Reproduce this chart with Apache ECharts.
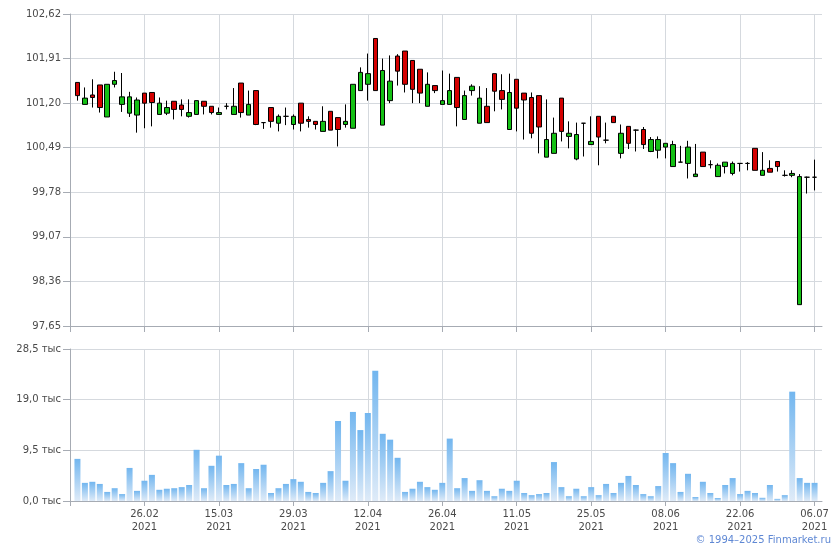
<!DOCTYPE html>
<html>
<head>
<meta charset="utf-8">
<script src="https://cdn.jsdelivr.net/npm/echarts@6/dist/echarts.min.js"></script>
<style>html,body{margin:0;padding:0;background:#fff;}#c{width:840px;height:550px;}</style>
</head>
<body>
<div id="c"></div>
<script>
const year = '2021';
const dates = ['12.02','15.02','16.02','17.02','18.02','19.02','22.02','24.02','25.02','26.02',
'01.03','02.03','03.03','04.03','05.03','09.03','10.03','11.03','12.03','15.03',
'16.03','17.03','18.03','19.03','22.03','23.03','24.03','25.03','26.03','29.03',
'30.03','31.03','01.04','02.04','05.04','06.04','07.04','08.04','09.04','12.04',
'13.04','14.04','15.04','16.04','19.04','20.04','21.04','22.04','23.04','26.04',
'27.04','28.04','29.04','30.04','04.05','05.05','06.05','07.05','10.05','11.05',
'12.05','13.05','14.05','17.05','18.05','19.05','20.05','21.05','24.05','25.05',
'26.05','27.05','28.05','31.05','01.06','02.06','03.06','04.06','07.06','08.06',
'09.06','10.06','11.06','14.06','15.06','16.06','17.06','18.06','21.06','22.06',
'23.06','24.06','25.06','28.06','29.06','30.06','01.07','02.07','05.07','06.07'];

const opens = [101.53,101.18,101.33,101.49,100.98,101.50,101.18,101.04,101.01,101.36,
101.37,101.02,101.04,101.23,101.17,100.99,101.02,101.23,101.15,101.02,
101.15,101.02,101.52,101.01,101.40,100.89,101.13,100.88,100.99,100.86,
101.20,100.94,100.91,100.75,101.07,100.97,100.86,100.80,101.40,101.50,
102.23,100.85,101.24,101.95,102.03,101.88,101.74,101.15,101.48,101.18,
101.18,101.61,100.94,101.40,100.88,101.15,101.67,101.40,100.78,101.58,
101.36,101.29,101.32,100.34,100.40,101.28,100.67,100.31,100.88,100.54,
100.99,100.61,100.99,100.40,100.83,100.77,100.78,100.43,100.45,100.50,
100.19,100.26,100.24,100.03,100.42,100.22,100.03,100.19,100.08,100.24,
100.24,100.48,100.05,100.16,100.27,100.05,100.05,97.99,100.02,100.02];

const closes = [101.32,101.28,101.29,101.13,101.50,101.56,101.30,101.30,101.25,101.20,
101.21,101.20,101.13,101.10,101.10,101.05,101.24,101.15,101.05,101.05,
101.15,101.15,101.05,101.18,100.86,100.89,100.91,100.99,100.99,100.99,
100.88,100.91,100.86,100.91,100.77,100.78,100.91,101.50,101.69,101.67,
101.40,101.72,101.55,101.71,101.50,101.42,101.36,101.50,101.40,101.24,
101.40,101.13,101.32,101.47,101.28,100.89,101.39,101.26,101.37,101.12,
101.25,100.72,100.82,100.62,100.72,100.75,100.72,100.70,100.88,100.59,
100.66,100.61,100.89,100.72,100.56,100.77,100.54,100.62,100.62,100.56,
100.54,100.26,100.50,100.07,100.19,100.22,100.21,100.26,100.24,100.24,
100.24,100.13,100.13,100.10,100.19,100.05,100.08,100.03,100.02,100.02];

const lows = [101.24,101.18,101.13,101.05,100.98,101.45,101.06,100.98,100.73,100.80,
100.83,101.02,101.01,100.94,100.99,100.97,101.02,101.02,101.02,101.02,
101.10,101.02,100.97,101.01,100.85,100.79,100.81,100.75,100.85,100.78,
100.75,100.81,100.78,100.75,100.77,100.51,100.81,100.80,101.40,101.24,
101.40,100.85,101.20,101.48,101.37,101.20,101.20,101.15,101.36,101.18,
101.18,100.83,100.94,101.32,100.88,100.89,101.07,101.10,100.78,100.75,
100.62,100.64,100.40,100.34,100.40,100.59,100.48,100.29,100.35,100.54,
100.21,100.56,100.89,100.32,100.47,100.43,100.47,100.42,100.32,100.32,
100.19,100.26,100.00,100.03,100.19,100.16,100.03,100.08,100.05,100.11,
100.13,100.13,100.05,100.10,100.11,100.03,100.02,97.99,99.76,99.81];

const highs = [101.53,101.45,101.58,101.49,101.50,101.70,101.68,101.38,101.29,101.36,
101.37,101.29,101.24,101.23,101.26,101.26,101.24,101.23,101.15,101.13,
101.20,101.44,101.52,101.40,101.40,100.89,101.13,101.02,101.13,101.02,
101.20,100.99,100.91,101.15,101.07,100.97,101.18,101.50,101.77,101.99,
102.23,101.91,101.96,101.98,102.03,101.88,101.74,101.69,101.48,101.72,
101.67,101.61,101.40,101.50,101.47,101.44,101.67,101.66,101.67,101.58,
101.36,101.37,101.32,101.26,100.97,101.28,100.91,100.89,100.88,100.99,
100.99,100.89,100.99,100.86,100.83,100.78,100.82,100.66,100.67,100.56,
100.60,100.52,100.60,100.55,100.42,100.29,100.24,100.26,100.27,100.24,
100.26,100.48,100.42,100.29,100.27,100.13,100.13,100.07,100.03,100.30];

// volume, thousands
const volumes = [7.9,3.4,3.6,3.2,1.7,2.4,1.3,6.2,1.9,3.8,
4.9,2.1,2.3,2.4,2.6,3.0,9.6,2.4,6.6,8.5,
3.0,3.2,7.1,2.4,6.0,6.8,1.5,2.4,3.2,4.1,
3.6,1.7,1.5,3.4,5.6,15.0,3.8,16.7,13.3,16.5,
24.4,12.6,11.5,8.1,1.7,2.3,3.6,2.6,2.1,3.4,
11.7,2.4,4.3,1.9,3.9,1.9,0.9,2.3,1.9,3.8,
1.5,1.1,1.3,1.5,7.3,2.6,0.9,2.3,0.9,2.6,
1.1,3.2,1.5,3.4,4.7,3.0,1.3,0.9,2.8,9.0,
7.1,1.7,5.1,0.75,3.6,1.5,0.56,3.0,4.3,1.3,
1.9,1.5,0.6,3.0,0.4,1.1,20.5,4.3,3.4,3.4];

const priceTicks = {min: 97.65, max: 102.62, step: 0.71};
const volTicks = {min: 0, max: 28.5, step: 9.5};

// pad one empty slot on each side so the axis extends half a step beyond data
const cats = [''].concat(dates, ['']);
const candleData = ['-'].concat(opens.map((o, i) => [o, closes[i], lows[i], highs[i]]), ['-']);
const volData = ['-'].concat(volumes, ['-']);

const FONT = 'DejaVu Sans';
const labelColor = '#4a4a4a';
const gridColor = '#d5d9de';
const axisColor = '#a6abb3';
const tickIdx = (i) => i === 0 || (i % 10 === 0 && i <= 100);
const labelIdx = (i) => i >= 10 && i % 10 === 0 && i <= 100;

const chart = echarts.init(document.getElementById('c'), null, {renderer: 'canvas'});
chart.setOption({
  animation: false,
  backgroundColor: '#ffffff',
  grid: [
    {left: 70, right: 18, top: 14, height: 312},
    {left: 70, right: 18, top: 349, height: 152}
  ],
  xAxis: [
    {
      type: 'category', gridIndex: 0, data: cats, boundaryGap: false,
      axisLine: {show: true, lineStyle: {color: axisColor}},
      axisTick: {show: true, interval: tickIdx, length: 6, lineStyle: {color: axisColor}},
      axisLabel: {show: false},
      splitLine: {show: true, interval: tickIdx, lineStyle: {color: gridColor}}
    },
    {
      type: 'category', gridIndex: 1, data: cats, boundaryGap: false,
      axisLine: {show: true, lineStyle: {color: axisColor}},
      axisTick: {show: true, interval: tickIdx, length: 5, lineStyle: {color: axisColor}},
      axisLabel: {
        show: true, interval: labelIdx, margin: 7,
        fontFamily: FONT, fontSize: 10, color: labelColor, lineHeight: 13,
        formatter: (v) => v ? v + '\n' + year : ''
      },
      splitLine: {show: true, interval: tickIdx, lineStyle: {color: gridColor}}
    }
  ],
  yAxis: [
    {
      type: 'value', gridIndex: 0, min: priceTicks.min, max: priceTicks.max, interval: priceTicks.step,
      axisLine: {show: true, lineStyle: {color: axisColor}},
      axisTick: {show: true, length: 7, lineStyle: {color: axisColor}},
      axisLabel: {fontFamily: FONT, fontSize: 10, color: labelColor, margin: 9,
        formatter: (v) => v.toFixed(2).replace('.', ',')},
      splitLine: {show: true, lineStyle: {color: gridColor}}
    },
    {
      type: 'value', gridIndex: 1, min: volTicks.min, max: volTicks.max, interval: volTicks.step,
      axisLine: {show: true, lineStyle: {color: axisColor}},
      axisTick: {show: true, length: 7, lineStyle: {color: axisColor}},
      axisLabel: {fontFamily: FONT, fontSize: 10, color: labelColor, margin: 9,
        formatter: (v) => v.toFixed(1).replace('.', ',') + ' тыс'},
      splitLine: {show: true, lineStyle: {color: gridColor}}
    }
  ],
  series: [
    {
      type: 'candlestick', xAxisIndex: 0, yAxisIndex: 0, data: candleData,
      barWidth: 5,
      itemStyle: {
        color: '#14c014', color0: '#d40000',
        borderColor: '#000000', borderColor0: '#000000', borderColorDoji: '#000000',
        borderWidth: 1
      }
    },
    {
      type: 'bar', xAxisIndex: 1, yAxisIndex: 1, data: volData, barWidth: 6,
      itemStyle: {
        color: new echarts.graphic.LinearGradient(0, 0, 0, 1, [
          {offset: 0, color: '#72b6ef'},
          {offset: 1, color: '#dfebf8'}
        ])
      }
    }
  ],
  graphic: [
    {
      type: 'text', right: 9, top: 535,
      style: {text: '© 1994–2025 Finmarket.ru', fill: '#5f88d4', font: '10px "DejaVu Sans"'}
    }
  ]
});
</script>
</body>
</html>
